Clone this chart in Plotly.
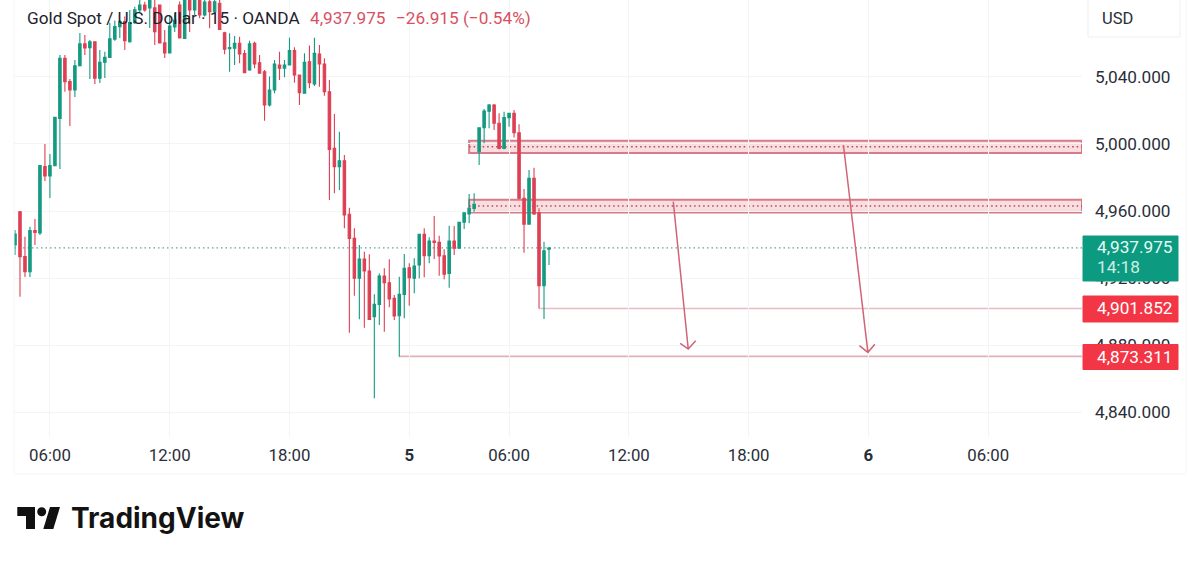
import plotly.graph_objects as go

# 15 minute bars
opens = [4939.7, 4959.6, 4932.8, 4923.8, 4948.3, 4946.9, 4986.5, 4980.9, 4987.1, 5015.3,
         5051.1, 5037.2, 5032.2, 5046.7, 5059.7, 5057.5, 5061.0, 5039.2, 5048.8, 5051.7,
         5062.5, 5070.0, 5073.0, 5061.0, 5072.4, 5080.0, 5082.9, 5081.2, 5081.2, 5082.9,
         5060.3, 5054.3, 5069.8, 5082.9, 5063.0, 5088.0, 5080.0, 5088.0, 5077.0, 5084.9,
         5078.9, 5084.0, 5066.4, 5056.9, 5057.1, 5060.1, 5053.9, 5044.2, 5060.1, 5048.5,
         5043.1, 5023.3, 5032.2, 5047.1, 5045.2, 5047.1, 5055.7, 5041.2, 5030.3, 5049.1,
         5035.8, 5053.7, 5047.7, 5031.2, 4997.4, 4986.5, 4990.0, 4958.1, 4943.7, 4919.9,
         4931.4, 4924.2, 4897.0, 4904.3, 4921.2, 4917.2, 4907.9, 4897.5, 4910.3, 4926.2,
         4919.9, 4927.8, 4946.1, 4933.3, 4942.1, 4941.3, 4933.3, 4922.8, 4942.1, 4937.8,
         4953.3, 4958.2, 4961.6, 4995.4, 5009.7, 5019.5, 5023.3, 5012.4, 4997.4, 5015.7,
         5018.3, 5006.7, 4967.6, 4952.1, 4979.5, 4959.0, 4915.4, 4937.2]
highs = [4948.7, 4960.0, 4944.7, 4950.7, 4955.2, 4987.5, 5000.0, 4994.0, 5016.3, 5053.1,
         5053.1, 5038.8, 5050.1, 5066.2, 5065.0, 5062.1, 5061.3, 5056.1, 5055.1, 5072.4,
         5073.6, 5074.0, 5076.0, 5080.0, 5081.9, 5085.9, 5084.9, 5090.0, 5086.0, 5083.0,
         5068.0, 5076.4, 5078.2, 5085.0, 5090.0, 5090.0, 5090.0, 5090.0, 5086.0, 5088.0,
         5088.0, 5088.0, 5067.0, 5066.0, 5064.4, 5064.0, 5056.1, 5061.6, 5061.0, 5053.1,
         5044.2, 5040.2, 5050.1, 5055.1, 5050.1, 5063.4, 5057.7, 5041.5, 5054.1, 5058.7,
         5063.4, 5059.1, 5051.1, 5038.2, 5017.9, 5007.3, 4993.4, 4962.0, 4949.7, 4939.7,
         4935.7, 4934.2, 4910.3, 4922.8, 4925.8, 4931.2, 4909.9, 4920.8, 4934.4, 4928.8,
         4931.8, 4946.3, 4949.7, 4944.3, 4957.0, 4945.3, 4937.2, 4951.2, 4951.1, 4953.6,
         4959.3, 4970.2, 4970.6, 5010.0, 5020.9, 5023.9, 5023.9, 5018.3, 5019.3, 5018.5,
         5020.3, 5011.8, 4973.1, 4984.5, 4985.9, 4961.6, 4941.7, 4938.5]
lows = [4933.8, 4908.9, 4920.6, 4920.6, 4939.7, 4945.7, 4977.9, 4967.8, 4986.8, 4985.1,
        5031.2, 5010.7, 5028.0, 5046.2, 5053.1, 5038.8, 5035.8, 5036.4, 5039.4, 5051.4,
        5061.6, 5063.3, 5056.1, 5060.4, 5071.6, 5078.2, 5078.9, 5069.2, 5059.1, 5060.0,
        5051.3, 5054.0, 5066.8, 5063.0, 5063.0, 5066.8, 5077.0, 5075.0, 5076.0, 5069.0,
        5078.0, 5068.0, 5053.5, 5043.1, 5047.1, 5048.2, 5042.2, 5043.7, 5045.2, 5042.2,
        5013.9, 5022.3, 5030.3, 5038.2, 5039.8, 5046.8, 5036.6, 5023.3, 5030.3, 5033.2,
        5034.6, 5034.2, 5028.8, 4966.6, 4970.6, 4972.6, 4949.7, 4887.4, 4909.5, 4895.4,
        4890.4, 4895.0, 4848.3, 4892.0, 4888.0, 4902.6, 4895.0, 4873.1, 4896.0, 4903.5,
        4910.9, 4919.9, 4920.5, 4928.8, 4931.4, 4921.4, 4919.3, 4914.3, 4933.8, 4937.5,
        4949.3, 4952.7, 4959.6, 4987.5, 5000.4, 5009.4, 5008.4, 4996.8, 4996.8, 5010.3,
        5003.8, 4967.0, 4935.1, 4952.0, 4957.6, 4901.9, 4895.6, 4927.8]
closes = [4946.3, 4932.8, 4923.8, 4948.3, 4947.3, 4987.1, 4980.9, 4987.1, 5015.9, 5051.1,
          5037.2, 5032.2, 5046.7, 5059.7, 5057.3, 5061.0, 5039.2, 5048.8, 5051.7, 5062.7,
          5070.0, 5073.0, 5061.6, 5072.4, 5080.0, 5082.9, 5080.0, 5087.0, 5067.0, 5060.3,
          5054.3, 5070.4, 5074.0, 5063.3, 5088.0, 5080.0, 5088.0, 5077.0, 5084.7, 5078.9,
          5084.9, 5068.4, 5056.5, 5057.6, 5060.1, 5053.7, 5042.5, 5059.7, 5047.7, 5042.2,
          5023.3, 5032.2, 5047.7, 5045.2, 5047.1, 5055.7, 5041.2, 5030.6, 5048.8, 5036.6,
          5054.1, 5047.7, 5031.2, 4996.8, 4986.5, 4990.0, 4957.6, 4943.7, 4919.9, 4931.4,
          4924.2, 4895.4, 4904.3, 4921.2, 4917.2, 4907.5, 4897.4, 4910.3, 4925.8, 4920.2,
          4927.2, 4946.1, 4933.3, 4942.1, 4941.3, 4933.2, 4922.3, 4942.1, 4937.8, 4953.3,
          4959.0, 4961.6, 4964.0, 5009.7, 5019.7, 5023.3, 5012.4, 4997.4, 5015.7, 5018.3,
          5006.7, 4967.6, 4952.1, 4979.5, 4958.2, 4915.4, 4936.3, 4937.975]

y_ticks = [4840, 4880, 4920, 4960, 5000, 5040]
x_ticks = [7, 31, 55, 79, 99, 123, 147, 171, 195]
x_labels = ["06:00", "12:00", "18:00", "<b>5</b>", "06:00", "12:00", "18:00", "<b>6</b>", "06:00"]

last_price = 4937.975
stop_a = 4901.852
stop_b = 4873.311
stop_a_start = 105
stop_b_start = 77
zones = [(91, 4994.6, 5002.0), (91, 4959.2, 4966.8)]

arrow_a_x = [131.9, 134.9, 133.3, 134.9, 136.4]
arrow_a_y = [4965.6, 4877.7, 4881.1, 4877.7, 4882.6]
arrow_b_x = [166.0, 170.9, 169.2, 170.9, 172.3]
arrow_b_y = [4999.4, 4875.7, 4879.7, 4875.7, 4880.5]

W, H = 1200, 562
L, R, T, B = 14, 1082, 0, 437
GREEN = "#159a81"
RED = "#dd4054"
PINK = "#d47c8a"
RED_TAG = "#f23645"
TEXT = "#2a2e39"


def px_x(p):
    return (p - L) / (R - L)


def px_y(p):
    return 1 - (p - T) / (B - T)


def box(x0, y0, x1, y1, color, line=None, layer="above"):
    return dict(type="rect", xref="paper", yref="paper", x0=px_x(x0), x1=px_x(x1), y0=px_y(y0), y1=px_y(y1),
                fillcolor=color, line=dict(color=line or color, width=1), layer=layer)


def label(x, y, text, size=17.2, color=TEXT, anchor="left", font="Roboto"):
    return dict(xref="paper", yref="paper", x=px_x(x), y=px_y(y), text=text, showarrow=False, xanchor=anchor,
                yanchor="middle", borderpad=0, font=dict(family=font, size=size, color=color))


xs = list(range(len(opens)))
fig = go.Figure()
fig.add_trace(go.Candlestick(x=xs, open=opens, high=highs, low=lows, close=closes, whiskerwidth=0,
                             increasing=dict(line=dict(color=GREEN, width=1.1), fillcolor=GREEN),
                             decreasing=dict(line=dict(color=RED, width=1.1), fillcolor=RED)))
for ax, ay in [(arrow_a_x, arrow_a_y), (arrow_b_x, arrow_b_y)]:
    fig.add_trace(go.Scatter(x=ax, y=ay, mode="lines", line=dict(color="#cf6575", width=1.5), hoverinfo="skip"))

shapes = []
for x0, low, high in zones:
    shapes.append(dict(type="rect", x0=x0, x1=213.8, y0=low, y1=high, fillcolor="#fbdcdf",
                       line=dict(color=PINK, width=2), layer="below"))
    shapes.append(dict(type="line", x0=x0, x1=213.8, y0=(low + high) / 2, y1=(low + high) / 2,
                       line=dict(color="#a4505e", width=1.5, dash="1.5px,3px"), layer="below"))
shapes.append(dict(type="line", x0=-0.2, x1=213.8, y0=last_price, y1=last_price,
                   line=dict(color="#5fa698", width=1.3, dash="1.5px,3px"), layer="below"))
shapes.append(dict(type="line", x0=stop_a_start, x1=213.8, y0=stop_a, y1=stop_a,
                   line=dict(color="#e8bcc3", width=1.5), layer="below"))
shapes.append(dict(type="line", x0=stop_b_start, x1=213.8, y0=stop_b, y1=stop_b,
                   line=dict(color="#e0b0b9", width=1.6), layer="below"))

# frame, price tags, logo
shapes += [
    dict(type="line", xref="paper", yref="paper", x0=px_x(14), x1=px_x(14), y0=px_y(0), y1=px_y(474),
         line=dict(color="#f3f4f6", width=1)),
    dict(type="line", xref="paper", yref="paper", x0=px_x(14), x1=px_x(1186), y0=px_y(474), y1=px_y(474),
         line=dict(color="#f3f4f6", width=1)),
    dict(type="line", xref="paper", yref="paper", x0=px_x(1186), x1=px_x(1186), y0=px_y(0), y1=px_y(474),
         line=dict(color="#f3f4f6", width=1)),
    box(1088, -2, 1180, 37, "#ffffff", line="#eeeff2"),
    box(1083, 236, 1178, 281, "#0c9b80"),
    box(1083, 296, 1178, 322, RED_TAG),
    box(1083, 344.5, 1178, 369.5, RED_TAG),
]
logo = [
    [(17.3, 507), (35, 507), (35, 529), (26, 529), (26, 516), (17.3, 516)],
    [(50, 507), (60, 507), (53.3, 529), (43.3, 529)],
]
for pts in logo:
    path = "M " + " L ".join(f"{px_x(a):.5f},{px_y(b):.5f}" for a, b in pts) + " Z"
    shapes.append(dict(type="path", xref="paper", yref="paper", path=path, fillcolor="#111111",
                       line=dict(width=0)))
shapes.append(dict(type="circle", xref="paper", yref="paper", x0=px_x(37.2), x1=px_x(46.2), y0=px_y(516.2),
                   y1=px_y(507.2), fillcolor="#111111", line=dict(width=0)))

notes = [
    label(25.5, 18, "Gold Spot / U.S. Dollar · 15 · OANDA", color="#1e222d"),
    label(308.5, 18, "4,937.975", color="#d9505f"),
    label(394.5, 18, "−26.915 (−0.54%)", color="#d9505f"),
    label(1101, 19, "USD", size=16.5),
    label(1095.5, 247, "4,937.975", color="#e6fbf5"),
    label(1095.5, 267, "14:18", color="#cdeee6"),
    label(1095.5, 308, "4,901.852", color="#ffffff"),
    label(1095.5, 357, "4,873.311", color="#ffffff"),
    label(70, 518, "<b>TradingView</b>", size=28, color="#131313", font="Inter"),
]

fig.update_layout(
    width=W, height=H, paper_bgcolor="#ffffff", plot_bgcolor="#ffffff", showlegend=False,
    margin=dict(l=L, r=W - R, t=T, b=H - B, pad=0), shapes=shapes, annotations=notes,
    font=dict(family="Roboto", color=TEXT),
)
fig.update_xaxes(range=[-0.2, 213.8], tickvals=x_ticks, ticktext=x_labels, rangeslider_visible=False,
                 showgrid=True, gridcolor="#f3f4f6", zeroline=False, showline=False, ticks="",
                 ticklabelstandoff=6, tickfont=dict(family="Roboto", size=16.8, color=TEXT))
fig.update_yaxes(range=[4825.2, 5085.9], side="right", tickvals=y_ticks,
                 ticktext=[f"{v:,}.000" for v in y_ticks], showgrid=True, gridcolor="#f3f4f6",
                 zeroline=False, showline=False, ticks="", ticklabelstandoff=12,
                 tickfont=dict(family="Roboto", size=17.2, color=TEXT))

fig.write_html("out.html", config=dict(displayModeBar=False), post_script="document.body.style.margin='0';")
